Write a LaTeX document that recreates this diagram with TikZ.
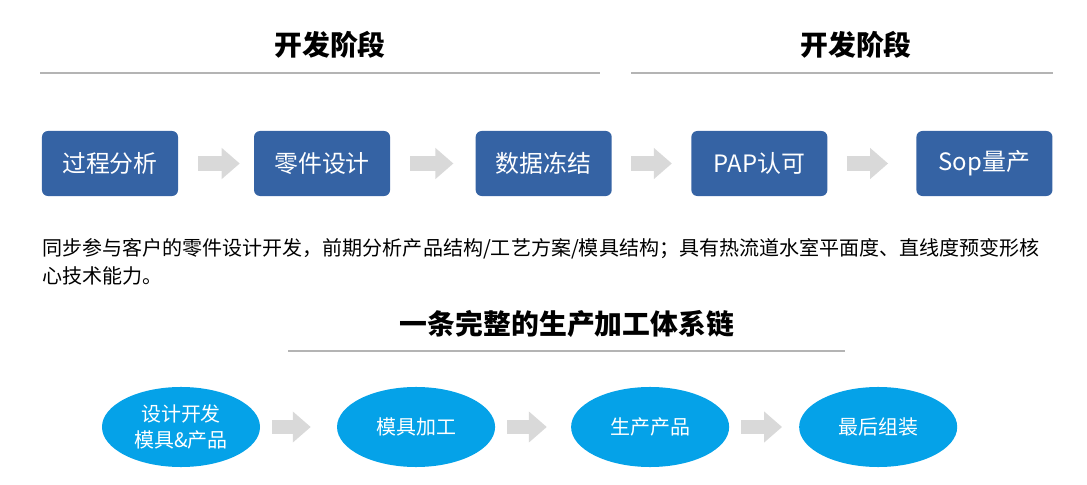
\documentclass[tikz,border=0pt]{standalone}
\usepackage{fontspec}
\setmainfont{Noto Sans CJK SC}
\usetikzlibrary{shapes,arrows.meta,positioning}
\definecolor{stageblue}{HTML}{3563A4}
\definecolor{chainblue}{HTML}{05A2E8}
\definecolor{arrowgray}{HTML}{D9D9D9}
\definecolor{rulegray}{HTML}{B4B4B4}
\tikzstyle{stagebox} = [rectangle, fill=stageblue, text=white, rounded corners=0.15cm,
    minimum width=3.4cm, minimum height=1.625cm, font=\fontsize{17}{20}\selectfont]
\tikzstyle{chainnode} = [ellipse, fill=chainblue, text=white, inner sep=0pt,
    minimum width=3.95cm, minimum height=2cm, align=center, font=\fontsize{14.2}{19}\selectfont]
\tikzstyle{heading} = [font=\fontsize{19.8}{22}\selectfont\bfseries]
\tikzstyle{titlerule} = [draw=rulegray, line width=1.4pt]
\tikzstyle{flowarrow} = [draw=arrowgray, line width=0.35cm,
    -{Triangle[length=0.45cm,width=0.75cm]}]

\begin{document}
\begin{tikzpicture}[x=0.025cm, y=-0.025cm]
  \useasboundingbox (0,0) rectangle (1087,485);
  % Headings
  \node [heading] (devA) at (330,45) {开发阶段};
  \node [heading] (devB) at (856,45) {开发阶段};
  \draw [titlerule] (40,73) -- (600,73);
  \draw [titlerule] (631,73) -- (1053,73);
  % Place stage boxes
  \node [stagebox] (analyse) at (110,163.5) {过程分析};
  \node [stagebox, right of=analyse, node distance=5.3cm] (design) {零件设计};
  \node [stagebox, right of=design, node distance=5.54cm] (freeze) {数据冻结};
  \node [stagebox, right of=freeze, node distance=5.39cm] (pap) {PAP认可};
  \node [stagebox, right of=pap, node distance=5.625cm] (sop) {Sop量产};
  % Draw stage arrows
  \draw [flowarrow, shorten <=0.5cm, shorten >=0.35cm] (analyse) -- (design);
  \draw [flowarrow, shorten <=0.5cm, shorten >=0.55cm] (design) -- (freeze);
  \draw [flowarrow, shorten <=0.48cm, shorten >=0.48cm] (freeze) -- (pap);
  \draw [flowarrow, shorten <=0.48cm, shorten >=0.7cm] (pap) -- (sop);
  % Description
  \node [anchor=north west, inner sep=0pt, align=left,
    font=\fontsize{14.25}{19.8}\selectfont] (desc) at (42,238)
    {同步参与客户的零件设计开发，前期分析产品结构/工艺方案/模具结构；具有热流道水室平面度、直线度预变形核\\心技术能力。};
  % Chain heading
  \node [heading] (chaintitle) at (567,324) {一条完整的生产加工体系链};
  \draw [titlerule] (288,351) -- (845,351);
  % Place chain ellipses
  \node [chainnode] (develop) at (181,427) {设计开发\\模具\&产品};
  \node [chainnode, right of=develop, node distance=5.875cm] (tooling) {模具加工};
  \node [chainnode, right of=tooling, node distance=5.85cm] (produce) {生产产品};
  \node [chainnode, right of=produce, node distance=5.7cm] (assemble) {最后组装};
  % Draw chain arrows
  \draw [flowarrow, shorten <=0.3cm, shorten >=0.65cm] (develop) -- (tooling);
  \draw [flowarrow, shorten <=0.3cm, shorten >=0.6cm] (tooling) -- (produce);
  \draw [flowarrow, shorten <=0.3cm, shorten >=0.42cm] (produce) -- (assemble);
\end{tikzpicture}
\end{document}
